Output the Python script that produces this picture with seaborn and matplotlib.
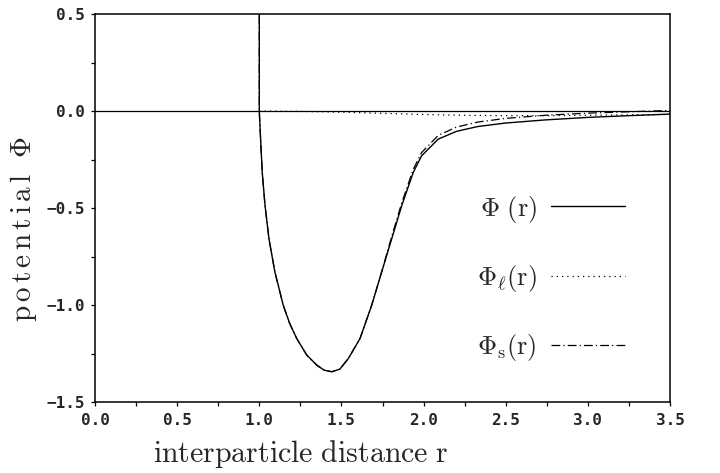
import numpy as np
import pandas as pd
import matplotlib
matplotlib.use("Agg")
import matplotlib.pyplot as plt
import seaborn as sns
from matplotlib.ticker import MultipleLocator

# ---- data ----
r_total = [1.000, 1.000, 1.008, 1.018, 1.035, 1.059, 1.095, 1.146, 1.185, 1.228,
           1.289, 1.350, 1.395, 1.441, 1.490, 1.542, 1.613, 1.684, 1.745, 1.806,
           1.867, 1.937, 1.988, 2.089, 2.200, 2.330, 2.500, 2.740, 3.000, 3.250, 3.500]
phi_total = [0.60, 0.000, -0.145, -0.317, -0.488, -0.659, -0.830, -1.002, -1.095, -1.173,
             -1.258, -1.310, -1.336, -1.344, -1.331, -1.276, -1.173, -1.002, -0.830, -0.659,
             -0.488, -0.317, -0.231, -0.145, -0.105, -0.080, -0.062, -0.046, -0.033, -0.024, -0.016]

r_long = [1.00, 1.25, 1.50, 1.75, 2.00, 2.25, 2.50, 2.75, 3.00, 3.25, 3.50]
phi_long = [0.000, -0.002, -0.006, -0.012, -0.018, -0.022, -0.024, -0.024, -0.022, -0.020, -0.018]

r_short = [1.000, 1.000, 1.008, 1.018, 1.035, 1.059, 1.095, 1.146, 1.185, 1.228,
           1.289, 1.350, 1.395, 1.441, 1.490, 1.542, 1.613, 1.684, 1.745, 1.806,
           1.867, 1.937, 1.988, 2.089, 2.200, 2.330, 2.500, 2.740, 3.000, 3.250, 3.500]
phi_short = [0.60, 0.000, -0.145, -0.317, -0.488, -0.659, -0.830, -1.002, -1.095, -1.173,
             -1.258, -1.310, -1.336, -1.344, -1.331, -1.276, -1.173, -1.002, -0.828, -0.647,
             -0.474, -0.301, -0.214, -0.126, -0.083, -0.057, -0.038, -0.022, -0.011, -0.004, 0.003]

labels = [r'$\Phi\ (\mathrm{r})$', r'$\Phi_{\ell}(\mathrm{r})$', r'$\Phi_{\mathrm{s}}(\mathrm{r})$']
xticks = [0.0, 0.5, 1.0, 1.5, 2.0, 2.5, 3.0, 3.5]
yticks = [0.5, 0.0, -0.5, -1.0, -1.5]

# ---- style ----
sns.set_style("ticks")
plt.rcParams['mathtext.fontset'] = 'cm'
plt.rcParams['font.family'] = ['DejaVu Sans']

fig = plt.figure(figsize=(7.2, 4.73), dpi=100)
ax = fig.add_axes([95/720, 1 - 402/473, 575/720, 388/473])

df_t = pd.DataFrame({'r': r_total, 'phi': phi_total})
df_l = pd.DataFrame({'r': r_long, 'phi': phi_long})
df_s = pd.DataFrame({'r': r_short, 'phi': phi_short})

ax.axhline(0.0, color='black', lw=0.9, zorder=1)
sns.lineplot(data=df_l, x='r', y='phi', ax=ax, sort=False, estimator=None,
             color='black', lw=0.9, linestyle=(0, (1, 3.2)), label=labels[1])
sns.lineplot(data=df_s, x='r', y='phi', ax=ax, sort=False, estimator=None,
             color='black', lw=0.9, linestyle=(0, (7, 2.5, 1, 2.5)), label=labels[2])
sns.lineplot(data=df_t, x='r', y='phi', ax=ax, sort=False, estimator=None,
             color='black', lw=1.0, label=labels[0])

ax.set_xlim(0, 3.5)
ax.set_ylim(-1.5, 0.5)
ax.xaxis.set_minor_locator(MultipleLocator(0.25))
ax.yaxis.set_minor_locator(MultipleLocator(0.25))
ax.set_xticks(xticks)
ax.set_yticks(yticks)
ax.set_xticklabels([f"{v:.1f}".replace('-', '\u2212') for v in xticks])
ax.set_yticklabels([f"{v:.1f}".replace('-', '\u2212') for v in yticks])
for lab in ax.get_xticklabels() + ax.get_yticklabels():
    lab.set_fontfamily('DejaVu Sans Mono')
    lab.set_fontweight('bold')
    lab.set_fontsize(11.5)
ax.tick_params(which='both', direction='out', length=3, width=0.9, color='black')
ax.tick_params(axis='x', pad=5)
ax.tick_params(axis='y', pad=4)
for s in ax.spines.values():
    s.set_visible(True)
    s.set_linewidth(1.1)
    s.set_color('black')

ax.set_xlabel(r'$\mathrm{interparticle\ distance\ r}$', fontsize=21.5)
ax.set_ylabel(r'$\mathrm{p\,o\,t\,e\,n\,t\,i\,a\,l}\ \ \Phi$', fontsize=21)
ax.xaxis.set_label_coords(0.358, -0.092)
ax.yaxis.set_label_coords(-0.098, 0.445)

handles, labs = ax.get_legend_handles_labels()
order = [labs.index(l) for l in labels]
leg = ax.legend([handles[i] for i in order], [labs[i] for i in order],
                loc='upper left', bbox_to_anchor=(0.664, 0.537), frameon=False,
                markerfirst=False, fontsize=19, labelspacing=1.45, handlelength=2.8,
                handletextpad=0.55, borderpad=0, borderaxespad=0)

fig.savefig('out.png', dpi=100)
